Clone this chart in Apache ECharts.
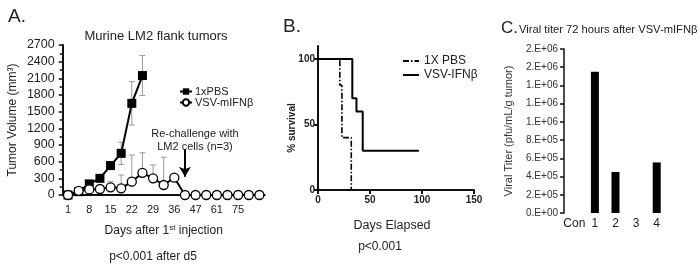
<!DOCTYPE html>
<html>
<head>
<meta charset="utf-8">
<script src="https://cdn.jsdelivr.net/npm/echarts@6/dist/echarts.min.js"></script>
<style>html,body{margin:0;padding:0;background:#fff}#c{width:700px;height:269px}</style>
</head>
<body>
<div id="c"></div>
<script>
// ---- Panel A: tumor volume ----
const daysA = ['1','4','8','11','15','18','22','25','29','32','36','40','47','54','61','68','75','82','89'];
const tickLabelsA = ['1','8','15','22','29','36','47','61','75'];
const pbsVol = [0, 60, 200, 300, 530, 750, 1650, 2150];
const pbsErr = [0, 0, 20, 30, 50, 200, 390, 360];
const vsvVol = [0, 75, 100, 108, 138, 120, 240, 400, 300, 180, 312, 0, 0, 0, 0, 0, 0, 0, 0];
const vsvErr = [0, 0, 0, 0, 100, 240, 480, 360, 240, 500, 0, 0, 0, 0, 0, 0, 0, 0, 0];

// ---- Panel B: survival ----
const pbsSurvDays = [0, 21, 23, 32];
const pbsSurv = [100, 80, 40, 0];
const vsvSurvDays = [0, 33, 37, 43, 97];
const vsvSurv = [100, 70, 60, 30, 30];
const yTicksB = [0, 50, 100];

// ---- Panel C: viral titer ----
const titerCats = ['Con', '1', '2', '3', '4'];
const titerVals = [0, 1550000, 450000, 0, 555000];

const txt = '#222';
const font = 'Liberation Sans, Arial, sans-serif';
const narrow = 'Liberation Sans Narrow, Arial Narrow, Liberation Sans, sans-serif';

function errData(vals, errs, upperOnly) {
  const out = [];
  vals.forEach((v, i) => {
    const e = errs[i] || 0;
    if (e > 0) out.push([i, upperOnly ? v : Math.max(0, v - e), v + e, upperOnly ? 0 : 1]);
  });
  return out;
}
function errRender(params, api) {
  const x = api.value(0), lo = api.value(1), hi = api.value(2), both = api.value(3);
  const p1 = api.coord([x, lo]), p2 = api.coord([x, hi]);
  const w = 3, st = {stroke: '#9a9a9a', lineWidth: 1};
  const ch = [
    {type: 'line', shape: {x1: p1[0], y1: p1[1], x2: p2[0], y2: p2[1]}, style: st},
    {type: 'line', shape: {x1: p2[0] - w, y1: p2[1], x2: p2[0] + w, y2: p2[1]}, style: st}
  ];
  if (both) ch.push({type: 'line', shape: {x1: p1[0] - w, y1: p1[1], x2: p1[0] + w, y2: p1[1]}, style: st});
  return {type: 'group', children: ch};
}
function sciFmt(v) {
  if (v === 0) return '0.E+00';
  const e = Math.floor(Math.log10(v) + 1e-9);
  const m = Math.round(v / Math.pow(10, e));
  return m + '.E+' + String(e).padStart(2, '0');
}

const chart = echarts.init(document.getElementById('c'), null, {renderer: 'canvas'});
chart.setOption({
  animation: false,
  backgroundColor: '#fff',
  textStyle: {fontFamily: font, color: txt},
  title: [
    {text: 'A.', left: 3, top: 2, textStyle: {fontSize: 19, fontWeight: 'normal', color: txt, fontFamily: font}},
    {text: 'Murine LM2 flank tumors', left: 151, top: 25, textAlign: 'center', textStyle: {fontSize: 13, fontWeight: 'normal', color: txt, fontFamily: font}},
    {text: 'Re-challenge with\nLM2 cells (n=3)', left: 190, top: 122, textAlign: 'center', textStyle: {fontSize: 11, lineHeight: 13, fontWeight: 'normal', color: txt, fontFamily: font}},
    {text: 'p<0.001 after d5', left: 148, top: 246, textAlign: 'center', textStyle: {fontSize: 12, fontWeight: 'normal', color: txt, fontFamily: font}},
    {text: 'B.', left: 278, top: 12, textStyle: {fontSize: 19, fontWeight: 'normal', color: txt, fontFamily: font}},
    {text: 'Days Elapsed', left: 387, top: 214, textAlign: 'center', textStyle: {fontSize: 12.5, fontWeight: 'normal', color: txt, fontFamily: font}},
    {text: 'p<0.001', left: 375, top: 236, textAlign: 'center', textStyle: {fontSize: 12, fontWeight: 'normal', color: txt, fontFamily: font}},
    {text: 'C.', left: 496, top: 15, textStyle: {fontSize: 17, fontWeight: 'normal', color: txt, fontFamily: font}},
    {text: 'Viral titer 72 hours after VSV-mIFNβ', left: 514, top: 19, textStyle: {fontSize: 11.2, fontWeight: 'normal', color: txt, fontFamily: font}}
  ],
  graphic: [
    {type: 'text', x: 292, y: 128, rotation: Math.PI / 2,
     style: {text: '% survival', fontSize: 10, fontWeight: 'bold', fontFamily: narrow, fill: txt, align: 'center', verticalAlign: 'middle'}}
  ],
  legend: [
    {data: ['1xPBS', 'VSV-mIFNβ'], orient: 'vertical', left: 174, top: 81, itemWidth: 12, itemHeight: 8, itemGap: 0,
     textStyle: {fontSize: 11, color: txt, fontFamily: font, padding: [0, 0, 0, -2]}},
    {data: ['1X PBS', 'VSV-IFNβ'], orient: 'vertical', left: 397, top: 50, itemWidth: 16, itemHeight: 8, itemGap: 2,
     itemStyle: {color: 'rgba(0,0,0,0)', borderColor: 'rgba(0,0,0,0)', borderWidth: 0},
     textStyle: {fontSize: 12, color: txt, fontFamily: font}}
  ],
  grid: [
    {left: 62.7, top: 45, width: 202, height: 150},
    {left: 318, top: 46, width: 156, height: 144},
    {left: 564, top: 49, width: 103, height: 164}
  ],
  xAxis: [
    {gridIndex: 0, type: 'category', data: daysA, boundaryGap: true,
     axisLine: {lineStyle: {color: '#111', width: 2}}, axisTick: {show: false},
     axisLabel: {interval: 0, fontSize: 11, color: txt, margin: 9, formatter: v => tickLabelsA.includes(v) ? v : ''},
     name: '{a|Days after 1}{s|st}{a| injection}', nameLocation: 'middle', nameGap: 29,
     nameTextStyle: {rich: {a: {fontSize: 12, color: txt, fontFamily: font}, s: {fontSize: 8, color: txt, fontFamily: font, verticalAlign: 'top', padding: [0, 0, 6, 0]}}}},
    {gridIndex: 1, type: 'value', min: 0, max: 150, interval: 50,
     axisLine: {lineStyle: {color: '#111', width: 2}}, axisTick: {length: 4, lineStyle: {width: 2, color: '#111'}},
     axisLabel: {fontSize: 10, fontWeight: 'bold', fontFamily: narrow, color: txt, margin: 5}, splitLine: {show: false}},
    {gridIndex: 2, type: 'category', data: titerCats, boundaryGap: true,
     axisLine: {show: false}, axisTick: {show: false},
     axisLabel: {interval: 0, fontSize: 12, color: txt, margin: 5}}
  ],
  yAxis: [
    {gridIndex: 0, type: 'value', min: 0, max: 2700, interval: 300,
     axisLine: {show: true, lineStyle: {color: '#111', width: 2}},
     axisTick: {show: true, length: 4, lineStyle: {color: '#111', width: 1.5}},
     minorTick: {show: true, splitNumber: 2, length: 3, lineStyle: {color: '#111', width: 1.5}},
     axisLabel: {fontSize: 12.5, color: txt, margin: 8, formatter: v => String(v)}, splitLine: {show: false},
     name: 'Tumor Volume (mm³)', nameLocation: 'middle', nameGap: 44, nameRotate: 90,
     nameTextStyle: {fontSize: 12, color: txt}},
    {gridIndex: 1, type: 'value', min: 0, max: 110,
     axisLine: {show: true, lineStyle: {color: '#111', width: 2}},
     axisTick: {show: true, length: 4, customValues: yTicksB, lineStyle: {width: 2, color: '#111'}},
     axisLabel: {fontSize: 10, fontWeight: 'bold', fontFamily: narrow, color: txt, margin: 3, customValues: yTicksB},
     splitLine: {show: false}},
    {gridIndex: 2, type: 'value', min: 0, max: 1800000, interval: 200000,
     axisLine: {show: true, lineStyle: {color: '#111', width: 1.5}},
     axisTick: {show: true, length: 4, lineStyle: {color: '#111', width: 1.5}},
     axisLabel: {fontSize: 10, color: '#333', margin: 6, formatter: sciFmt}, splitLine: {show: false},
     name: 'Viral Titer (pfu/mL/g tumor)', nameLocation: 'middle', nameGap: 50, nameRotate: 90,
     nameTextStyle: {fontSize: 11, color: '#333'}}
  ],
  series: [
    {type: 'custom', name: 'pbsErr', xAxisIndex: 0, yAxisIndex: 0, renderItem: errRender, data: errData(pbsVol, pbsErr, false), z: 1, silent: true},
    {type: 'custom', name: 'vsvErr', xAxisIndex: 0, yAxisIndex: 0, renderItem: errRender, data: errData(vsvVol, vsvErr, true), z: 1, silent: true},
    {type: 'line', name: '1xPBS', xAxisIndex: 0, yAxisIndex: 0, data: pbsVol, symbol: 'rect', symbolSize: 9,
     lineStyle: {color: '#000', width: 2}, itemStyle: {color: '#000'}, z: 3},
    {type: 'line', name: 'VSV-mIFNβ', xAxisIndex: 0, yAxisIndex: 0, data: vsvVol, symbol: 'circle', symbolSize: 9,
     lineStyle: {color: '#000', width: 2}, itemStyle: {color: '#fff', borderColor: '#000', borderWidth: 1.3}, z: 4,
     markLine: {silent: true, symbol: ['none', 'arrow'], symbolSize: [9, 10], label: {show: false},
       lineStyle: {color: '#000', width: 2, type: 'solid'},
       data: [[{coord: ['40', 830]}, {coord: ['40', 330]}]]}},
    {type: 'line', name: '1X PBS', xAxisIndex: 1, yAxisIndex: 1, step: 'end', symbol: 'none',
     data: pbsSurvDays.map((d, i) => [d, pbsSurv[i]]),
     lineStyle: {color: '#000', width: 1.6, type: [6, 2, 1.5, 2]}, itemStyle: {color: '#000'}, z: 2},
    {type: 'line', name: 'VSV-IFNβ', xAxisIndex: 1, yAxisIndex: 1, step: 'end', symbol: 'none',
     data: vsvSurvDays.map((d, i) => [d, vsvSurv[i]]),
     lineStyle: {color: '#000', width: 2}, itemStyle: {color: '#000'}, z: 3},
    {type: 'bar', name: 'titer', xAxisIndex: 2, yAxisIndex: 2, data: titerVals, barWidth: 8,
     itemStyle: {color: '#000'}}
  ]
});
</script>
</body>
</html>
